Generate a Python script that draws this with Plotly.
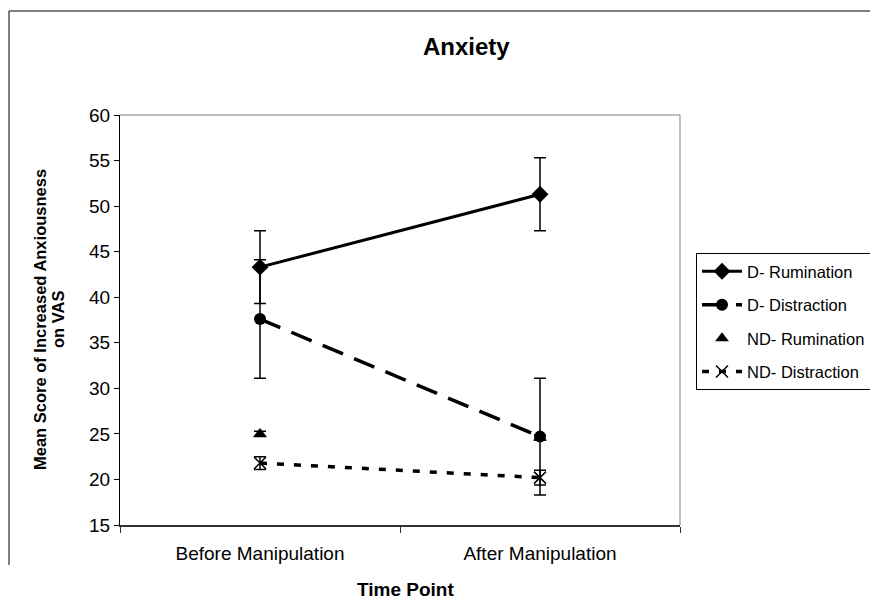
import plotly.graph_objects as go

categories = ["Before Manipulation", "After Manipulation"]
series_names = ["D- Rumination", "D- Distraction", "ND- Rumination", "ND- Distraction"]

d_rum = [43.3, 51.3]
d_rum_err = [4.0, 4.0]
d_dis = [37.6, 24.7]
d_dis_err = [6.5, 6.4]
nd_rum = [25.0, 24.6]
nd_rum_err = [0.3, 0.3]
nd_dis = [21.8, 20.2]
nd_dis_err = [0.7, 0.8]

y_ticks = [15, 20, 25, 30, 35, 40, 45, 50, 55, 60]

FONT = "Liberation Sans, Arial, sans-serif"

fig = go.Figure()

def err(arr):
    return dict(type="data", array=arr, visible=True, color="black", thickness=1.5, width=6)

fig.add_trace(go.Scatter(
    x=categories, y=d_rum, name=series_names[0], mode="lines+markers",
    line=dict(color="black", width=3),
    marker=dict(symbol="diamond", size=13, color="black"),
    error_y=err(d_rum_err), legendgroup="a"))
fig.add_trace(go.Scatter(
    x=categories, y=d_dis, name=series_names[1], mode="lines+markers",
    line=dict(color="black", width=3.5, dash="22px,12px"),
    marker=dict(symbol="circle", size=12, color="black"),
    error_y=err(d_dis_err), legendgroup="b"))
fig.add_trace(go.Scatter(
    x=categories, y=nd_rum, name=series_names[2], mode="markers",
    marker=dict(symbol="triangle-up", size=12, color="black"),
    error_y=err(nd_rum_err), legendgroup="c"))
fig.add_trace(go.Scatter(
    x=categories, y=nd_dis, name=series_names[3], mode="lines+markers",
    line=dict(color="black", width=3.5, dash="7px,10px"),
    marker=dict(symbol="x-thin-open", size=12, color="black", line=dict(width=1.5, color="black")),
    error_y=err(nd_dis_err), legendgroup="d"))

OFF = 8  # page body margin
# plot area in page pixels
L, T, R, B = 120, 115, 680, 525
W, H = 878 - OFF, 601 - OFF

def px_x(p):
    return (p - L) / (R - L)

def px_y(p):
    return (B - p) / (B - T)

fig.update_layout(
    width=W, height=H,
    margin=dict(l=L - OFF, r=W - (R - OFF), t=T - OFF, b=H - (B - OFF), autoexpand=False),
    paper_bgcolor="white", plot_bgcolor="white",
    font=dict(family=FONT, size=18, color="black"),
    showlegend=True,
    legend=dict(
        x=px_x(696), y=px_y(253), xanchor="left", yanchor="top",
        bordercolor="black", borderwidth=1, bgcolor="white",
        font=dict(size=16.5), traceorder="grouped", tracegroupgap=9,
        itemwidth=40,
    ),
    xaxis=dict(
        type="category", range=[-0.5, 1.5], tickson="boundaries",
        ticks="outside", ticklen=6, tickcolor="#333333",
        showline=True, linecolor="#333333", linewidth=1.5,
        showgrid=False, zeroline=False, ticklabelstandoff=10,
        tickfont=dict(size=19),
    ),
    yaxis=dict(
        range=[15, 60], tickvals=y_ticks, ticks="outside", ticklen=5,
        tickcolor="black", showline=True, linecolor="black", linewidth=1,
        showgrid=False, zeroline=False, tickfont=dict(size=19),
    ),
    shapes=[
        dict(type="line", xref="paper", yref="paper", x0=0, x1=1, y0=1, y1=1,
             line=dict(color="#808080", width=1)),
        dict(type="line", xref="paper", yref="paper", x0=1, x1=1, y0=0, y1=1,
             line=dict(color="#808080", width=1)),
        dict(type="line", xref="paper", yref="paper", x0=px_x(9), x1=px_x(900),
             y0=px_y(11), y1=px_y(11), line=dict(color="black", width=1)),
        dict(type="line", xref="paper", yref="paper", x0=px_x(9), x1=px_x(9),
             y0=px_y(11), y1=px_y(565), line=dict(color="black", width=1)),
    ],
    annotations=[
        dict(text="<b>Anxiety</b>", xref="paper", yref="paper", x=px_x(466), y=px_y(46),
             showarrow=False, xanchor="center", yanchor="middle", font=dict(size=24)),
        dict(text="<b>Time Point</b>", xref="paper", yref="paper", x=px_x(405), y=px_y(589),
             showarrow=False, xanchor="center", yanchor="middle", font=dict(size=19)),
        dict(text="<b>Mean Score of Increased Anxiousness</b>", xref="paper", yref="paper",
             x=px_x(40), y=0.5, showarrow=False, textangle=-90,
             xanchor="center", yanchor="middle", font=dict(size=16.5)),
        dict(text="<b>on VAS</b>", xref="paper", yref="paper",
             x=px_x(58), y=0.5, showarrow=False, textangle=-90,
             xanchor="center", yanchor="middle", font=dict(size=16.5)),
    ],
)

fig.write_html("out.html")
